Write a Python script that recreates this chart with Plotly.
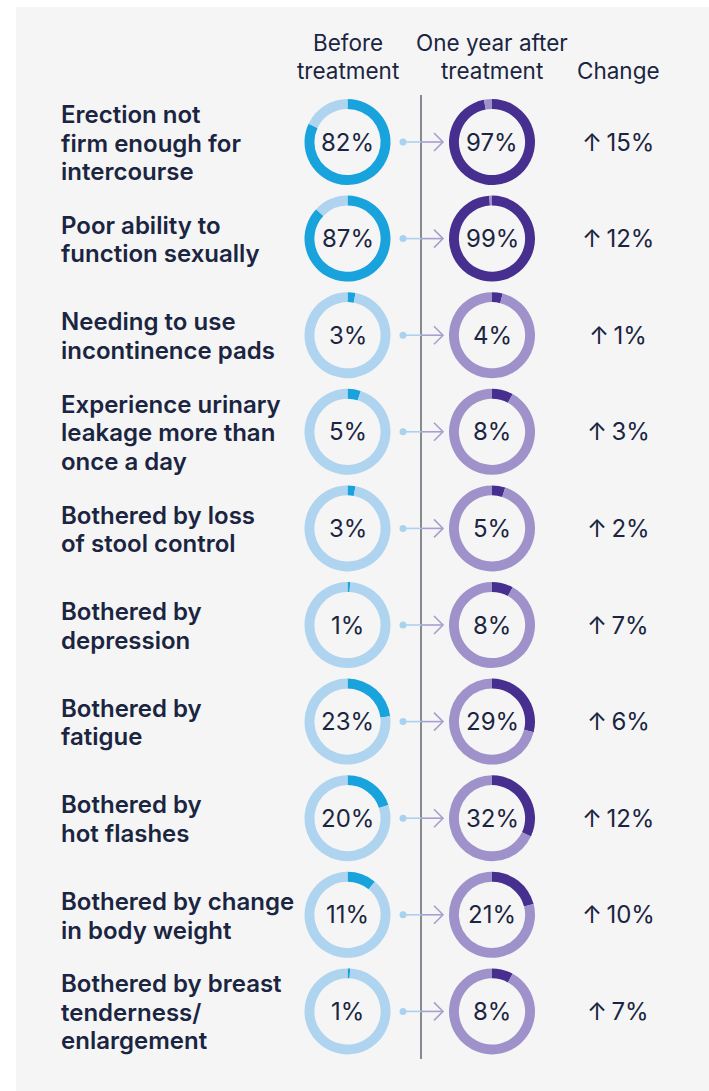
import plotly.graph_objects as go

# Survey items (one entry per label line) and outcome percentages
labels = [
    ["Erection not", "firm enough for", "intercourse"],
    ["Poor ability to", "function sexually"],
    ["Needing to use", "incontinence pads"],
    ["Experience urinary", "leakage more than", "once a day"],
    ["Bothered by loss", "of stool control"],
    ["Bothered by", "depression"],
    ["Bothered by", "fatigue"],
    ["Bothered by", "hot flashes"],
    ["Bothered by change", "in body weight"],
    ["Bothered by breast", "tenderness/", "enlargement"],
]
before = [82, 87, 3, 5, 3, 1, 23, 20, 11, 1]
after = [97, 99, 4, 8, 5, 8, 29, 32, 21, 8]
change = [15, 12, 1, 3, 2, 7, 6, 12, 10, 7]

W, H = 709, 1091
FONT = "Inter"
NAVY = "#1b2541"
BLUE_DARK, BLUE_LIGHT = "#18a3dd", "#afd4ef"
PURP_DARK, PURP_LIGHT = "#472f8f", "#9f92ca"

ROW0, ROW_STEP = 142, 96.6
LINE_H = 28.5
X_BEFORE, X_AFTER, X_CHANGE = 347.5, 492, 618
X_DIVIDER = 421
R = 43

fig = go.Figure()
shapes = []
annotations = []

# light panel background
shapes.append(dict(type="rect", xref="x", yref="y", x0=16, x1=W, y0=7, y1=H,
                   fillcolor="#f5f5f5", line=dict(width=0), layer="below"))
# divider between before / after columns
shapes.append(dict(type="line", xref="x", yref="y", x0=X_DIVIDER, x1=X_DIVIDER,
                   y0=95, y1=1059, line=dict(color="#4a4f5e", width=1.3)))


def dom(cx, cy, r):
    return dict(x=[(cx - r) / W, (cx + r) / W], y=[1 - (cy + r) / H, 1 - (cy - r) / H])


def text(x, y, s, size, anchor="center", weight=400):
    annotations.append(dict(x=x, y=y, text=s, showarrow=False, xanchor=anchor,
                            yanchor="middle", align=anchor,
                            font=dict(family=FONT, size=size, color=NAVY, weight=weight)))


for i, (lab, b, a, c) in enumerate(zip(labels, before, after, change)):
    cy = ROW0 + i * ROW_STEP
    for cx, v, dark, light in ((X_BEFORE, b, BLUE_DARK, BLUE_LIGHT),
                               (X_AFTER, a, PURP_DARK, PURP_LIGHT)):
        fig.add_trace(go.Pie(
            values=[v, 100 - v], sort=False, direction="clockwise", rotation=0,
            hole=0.77, domain=dom(cx, cy, R), textinfo="none", hoverinfo="skip",
            marker=dict(colors=[dark, light], line=dict(width=0)), showlegend=False,
        ))
        text(cx, cy, f"{v}%", 24)
    # row label, one annotation per line for tight leading
    n = len(lab)
    for j, line in enumerate(lab):
        text(59, cy + 1 + (j - (n - 1) / 2) * LINE_H, line, 24, anchor="left", weight=600)
    # change value
    text(X_CHANGE, cy, f"\u2191\u2009{c}%", 24)
    # connector: dot, line and chevron head
    shapes.append(dict(type="line", xref="x", yref="y", x0=403, x1=X_DIVIDER, y0=cy, y1=cy,
                       line=dict(color="#a9d2ef", width=1.6)))
    shapes.append(dict(type="line", xref="x", yref="y", x0=X_DIVIDER, x1=443, y0=cy, y1=cy,
                       line=dict(color="#a99ed0", width=1.6)))
    shapes.append(dict(type="circle", xref="x", yref="y", x0=399.5, x1=406.5,
                       y0=cy - 3.5, y1=cy + 3.5, fillcolor="#a9d2ef", line=dict(width=0)))
    shapes.append(dict(type="path", xref="x", yref="y",
                       path=f"M 434 {cy - 9} L 443 {cy} L 434 {cy + 9}",
                       line=dict(color="#a99ed0", width=1.6)))

# column headers
for x, lines in ((X_BEFORE, ["Before", "treatment"]),
                 (X_AFTER, ["One year after", "treatment"]),
                 (X_CHANGE, ["Change"])):
    for j, line in enumerate(lines):
        text(x, 70 - (len(lines) - 1 - j) * 28, line, 22.5)

fig.update_layout(
    width=W, height=H, margin=dict(l=0, r=0, t=0, b=0),
    paper_bgcolor="white", plot_bgcolor="white",
    xaxis=dict(range=[0, W], visible=False, fixedrange=True),
    yaxis=dict(range=[H, 0], visible=False, fixedrange=True),
    shapes=shapes, annotations=annotations, showlegend=False,
)
fig.write_html("out.html")
